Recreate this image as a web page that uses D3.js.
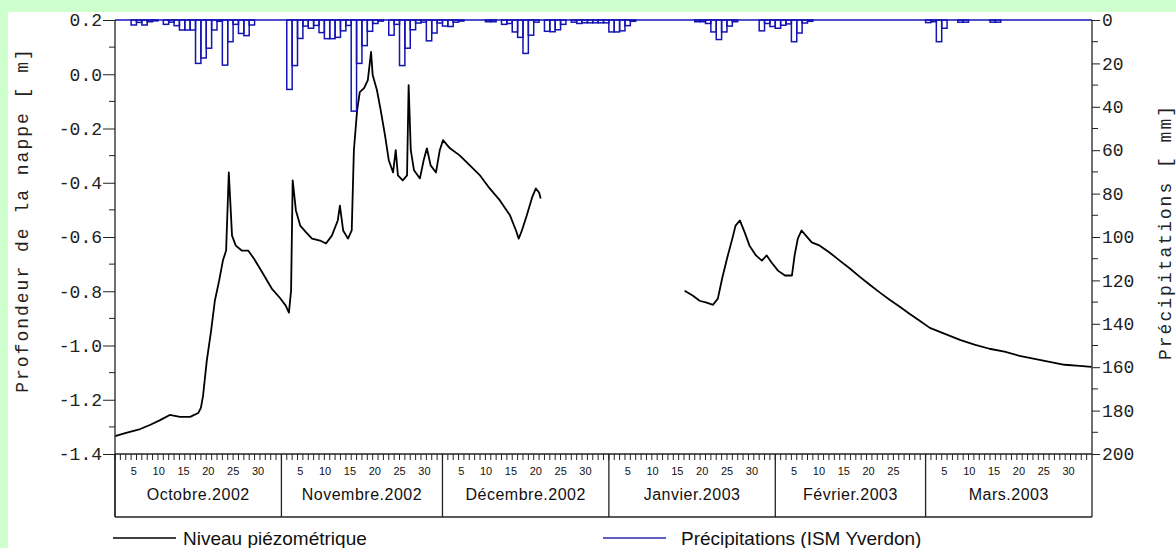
<!DOCTYPE html>
<meta charset="utf-8">
<style>
    body { margin: 0; background: #ccffcc; }
    svg { display: block; }
    .ticklab { font-family: "Liberation Mono", "DejaVu Sans Mono", monospace; font-size: 18px; fill: #222; }
    .axtitle { font-family: "Liberation Mono", "DejaVu Sans Mono", monospace; font-size: 18px; fill: #222; letter-spacing: 2px; }
    .daylab { font-family: "Liberation Sans", Arial, sans-serif; font-size: 11px; fill: #111; }
    .monthlab { font-family: "Liberation Sans", Arial, sans-serif; font-size: 16px; fill: #111; letter-spacing: 0.5px; }
    .legend { font-family: "Liberation Sans", Arial, sans-serif; font-size: 19px; fill: #111; }
</style>
<body>
<svg width="1176" height="548"></svg>
</body>
<script src="https://cdn.jsdelivr.net/npm/d3@7"></script>
<script>

    // day offsets are counted from 1 Oct 2002
    var rainDays = [3, 4, 5, 6, 7, 9, 10, 11, 12, 13, 14, 15, 16, 17, 18, 19, 20, 21, 22, 23, 24, 25,
        32, 33, 34, 35, 36, 37, 38, 39, 40, 41, 42, 43, 44, 45, 46, 47, 48, 49,
        51, 52, 53, 54, 55, 56, 57, 58, 59, 60, 61, 62, 63, 64,
        69, 70, 72, 73, 74, 75, 76, 77, 78, 80, 81, 82, 83, 85, 86, 87, 88, 89, 90, 91, 92, 93, 94, 95, 96,
        108, 109, 110, 111, 112, 113, 114, 115,
        120, 121, 122, 123, 124, 125, 126, 127, 128, 129,
        151, 152, 153, 154, 157, 158, 163, 164];
    var rainMm = [2.3, 1.1, 2.3, 0.8, 0.4, 2.0, 1.0, 2.6, 4.6, 4.6, 4.6, 20, 17.5, 13, 4.6, 0.6, 20.8, 10, 2, 6.2, 7.2, 2.3,
        32, 21, 8.5, 2.8, 3.8, 2.5, 5.8, 8.6, 8.6, 8, 5, 2.5, 42, 20, 11.8, 5.2, 1.6, 0.5,
        7, 2, 21, 13, 4.5, 1.4, 1, 9.6, 6, 1.4, 2.8, 3, 1, 0.5,
        0.8, 0.8, 2, 1.6, 5.5, 8, 15.4, 7, 1, 5.2, 5.4, 4.5, 2, 1, 1.6, 1.3, 1.3, 1.3, 1.3, 1.3, 5.5, 5.5, 5, 2.6, 0.6,
        0.8, 0.8, 1.6, 5.5, 9, 5.5, 2.8, 0.8,
        5, 1.6, 3, 3.8, 2.4, 1.8, 10, 6, 1.4, 0.6,
        1.2, 0.8, 10, 3.8, 1, 1, 1, 1];

    // piezometric level, first logged period (Oct - Dec)
    var levelDays1 = [0, 1.9, 4.7, 6.5, 8.4, 10.2, 12.1, 14, 15.5, 16, 16.4, 17.1, 17.9, 18.6, 19.4, 20.1, 20.7, 21.2, 21.8,
        22.5, 23.6, 24.8, 25.9, 27, 28.1, 29.2, 30.7, 31.8, 32.4, 32.8, 33.1, 33.7, 34.5, 35.6, 36.7, 38.2, 39.3, 40.4,
        41.5, 41.9, 42.5, 43.4, 44.1, 44.5, 45.1, 45.6, 46.4, 47.1, 47.7, 48, 48.8, 49.5, 50.3, 51, 51.8, 52.3, 52.7,
        53.6, 54.4, 54.7, 55.1, 55.7, 56.8, 57.5, 58.1, 58.8, 59.8, 60.5, 61.1, 62.4, 64.2, 66.1, 68, 69.8, 71.7, 73.6,
        74.7, 75.2, 75.8, 76.7, 77.7, 78.4, 79, 79.3];
    var levelVals1 = [-1.334, -1.323, -1.308, -1.293, -1.275, -1.256, -1.263, -1.263, -1.249, -1.23, -1.186, -1.056, -0.946,
        -0.835, -0.761, -0.687, -0.65, -0.362, -0.595, -0.632, -0.65, -0.65, -0.68, -0.716, -0.753, -0.79, -0.824, -0.853,
        -0.879, -0.798, -0.391, -0.502, -0.558, -0.583, -0.606, -0.613, -0.624, -0.595, -0.539, -0.484, -0.576, -0.606,
        -0.576, -0.28, -0.133, -0.066, -0.051, -0.022, 0.082, -0.003, -0.059, -0.133, -0.225, -0.317, -0.362, -0.28,
        -0.373, -0.391, -0.373, -0.04, -0.28, -0.354, -0.384, -0.317, -0.273, -0.336, -0.362, -0.28, -0.243, -0.273,
        -0.299, -0.336, -0.373, -0.421, -0.465, -0.521, -0.576, -0.606, -0.576, -0.521, -0.454, -0.421, -0.436, -0.458];

    // second logged period (Jan - Mar)
    var levelDays2 = [106.1, 107.6, 108.9, 110.2, 111.4, 112.3, 113.1, 114, 115, 115.6, 116.4, 117.3, 118.2, 119.4, 120.5,
        121.4, 122.3, 123.5, 124.8, 126.1, 126.6, 127.2, 127.9, 128.7, 129.8, 131.3, 133.1, 135, 136.9, 138.7, 140.6,
        142.5, 144.3, 146.2, 148, 149.9, 151.8, 154.6, 157.4, 160.1, 162.9, 165.7, 168.5, 171.3, 174.1, 176.9, 179.7, 181.9];
    var levelVals2 = [-0.798, -0.816, -0.835, -0.842, -0.85, -0.827, -0.753, -0.68, -0.606, -0.558, -0.539, -0.583, -0.632,
        -0.668, -0.687, -0.668, -0.694, -0.724, -0.742, -0.742, -0.668, -0.606, -0.576, -0.595, -0.62, -0.632, -0.657,
        -0.687, -0.716, -0.746, -0.776, -0.805, -0.831, -0.857, -0.883, -0.909, -0.935, -0.957, -0.979, -0.997, -1.012,
        -1.023, -1.038, -1.049, -1.06, -1.071, -1.075, -1.079];

    var monthNames = ["Octobre.2002", "Novembre.2002", "Décembre.2002", "Janvier.2003", "Février.2003", "Mars.2003"];
    var dayLabels = [5, 10, 15, 20, 25, 30];
    var leftTicks = [0.2, 0.0, -0.2, -0.4, -0.6, -0.8, -1.0, -1.2, -1.4];
    var rightTicks = [0, 20, 40, 60, 80, 100, 120, 140, 160, 180, 200];

    var svg = d3.select("svg");
    var pLeft = 115, pRight = 1092, pTop = 20, pBottom = 454, bandBottom = 517;

    svg.append("rect").attr("x", 8).attr("y", 12).attr("width", 1168).attr("height", 536).attr("fill", "#fff");

    var start = new Date(2002, 9, 1);
    function dayDate(d) { return new Date(start.getTime() + d * 864e5); }

    var x = d3.scaleTime()
        .domain([start, new Date(2003, 3, 1)])
        .range([pLeft, pRight]);
    var y = d3.scaleLinear().domain([-1.4, 0.2]).range([pBottom, pTop]);
    var yRain = d3.scaleLinear().domain([0, 200]).range([pTop, pBottom]);

    var line = d3.line()
        .x(function (d) { return x(dayDate(d[0])); })
        .y(function (d) { return y(d[1]); });

    [[levelDays1, levelVals1], [levelDays2, levelVals2]].forEach(function (s) {
        svg.append("path")
            .datum(d3.zip(s[0], s[1]))
            .attr("fill", "none")
            .attr("stroke", "#000")
            .attr("stroke-width", 1.8)
            .attr("stroke-linejoin", "round")
            .attr("d", line);
    });

    // precipitation bars hanging from the top
    svg.append("g").selectAll("rect")
        .data(rainDays)
        .enter().append("rect")
        .attr("x", function (d) { return x(dayDate(d)); })
        .attr("width", function (d) { return x(dayDate(d + 1)) - x(dayDate(d)); })
        .attr("y", yRain(0))
        .attr("height", function (d, i) { return yRain(rainMm[i]) - yRain(0); })
        .attr("fill", "none")
        .attr("stroke", "#1414b4")
        .attr("stroke-width", 1.5);

    svg.append("line")
        .attr("x1", pLeft).attr("x2", pRight)
        .attr("y1", yRain(0)).attr("y2", yRain(0))
        .attr("stroke", "#1414b4").attr("stroke-width", 1.5);

    // left axis
    var yAxis = d3.axisLeft(y).tickValues(leftTicks).tickSize(12).tickPadding(1);
    var gl = svg.append("g").attr("transform", "translate(" + pLeft + ",0)").call(yAxis);
    gl.select(".domain").remove();
    gl.selectAll("text").attr("class", "ticklab").attr("font-family", null).attr("font-size", null)
        .text(function (d) { return d.toFixed(1); });
    gl.selectAll("line").attr("stroke", "#222");
    svg.append("g").selectAll("line")
        .data([0.1, -0.1, -0.3, -0.5, -0.7, -0.9, -1.1, -1.3])
        .enter().append("line")
        .attr("x1", pLeft - 6).attr("x2", pLeft)
        .attr("y1", function (d) { return y(d); }).attr("y2", function (d) { return y(d); })
        .attr("stroke", "#222");

    // right axis
    var rAxis = d3.axisRight(yRain).tickValues(rightTicks).tickSize(8).tickPadding(2);
    var gr = svg.append("g").attr("transform", "translate(" + pRight + ",0)").call(rAxis);
    gr.select(".domain").remove();
    gr.selectAll("text").attr("class", "ticklab").attr("font-family", null).attr("font-size", null);
    gr.selectAll("line").attr("stroke", "#222");
    svg.append("g").selectAll("line")
        .data([10, 30, 50, 70, 90, 110, 130, 150, 170, 190])
        .enter().append("line")
        .attr("x1", pRight).attr("x2", pRight + 6)
        .attr("y1", function (d) { return yRain(d); }).attr("y2", function (d) { return yRain(d); })
        .attr("stroke", "#222");

    // frame lines
    svg.append("line").attr("x1", pLeft).attr("x2", pLeft).attr("y1", pTop).attr("y2", bandBottom).attr("stroke", "#222").attr("stroke-width", 1.3);
    svg.append("line").attr("x1", pRight).attr("x2", pRight).attr("y1", pTop).attr("y2", bandBottom).attr("stroke", "#222").attr("stroke-width", 1.3);
    svg.append("line").attr("x1", pLeft).attr("x2", pRight).attr("y1", pBottom).attr("y2", pBottom).attr("stroke", "#222").attr("stroke-width", 1.3);
    svg.append("line").attr("x1", pLeft).attr("x2", pRight).attr("y1", bandBottom).attr("y2", bandBottom).attr("stroke", "#222").attr("stroke-width", 1.3);

    // daily ticks
    svg.append("g").selectAll("line")
        .data(d3.timeDay.range(start, new Date(2003, 3, 1)))
        .enter().append("line")
        .attr("x1", function (d) { return x(d); }).attr("x2", function (d) { return x(d); })
        .attr("y1", pBottom).attr("y2", pBottom + 6)
        .attr("stroke", "#222").attr("stroke-width", 1);

    // month bands
    var months = d3.timeMonth.range(start, new Date(2003, 3, 1));
    var mg = svg.append("g").selectAll("g")
        .data(months)
        .enter().append("g");
    mg.append("line")
        .attr("x1", function (d) { return x(d); }).attr("x2", function (d) { return x(d); })
        .attr("y1", pBottom).attr("y2", bandBottom)
        .attr("stroke", "#222").attr("stroke-width", 1.3);
    mg.append("text")
        .attr("class", "monthlab")
        .attr("x", function (d) { return (x(d) + x(d3.timeMonth.offset(d, 1))) / 2; })
        .attr("y", 500)
        .attr("text-anchor", "middle")
        .text(function (d, i) { return monthNames[i]; });

    // day numbers sit slightly compressed inside each month
    var dayPos = d3.scaleLinear().domain([0, 31]).range([-6, 148]);
    mg.each(function (m) {
        var n = d3.timeDay.count(m, d3.timeMonth.offset(m, 1));
        d3.select(this).selectAll("text.daylab")
            .data(dayLabels.filter(function (d) { return d <= n; }))
            .enter().append("text")
            .attr("class", "daylab")
            .attr("x", function (d) { return x(m) + dayPos(d); })
            .attr("y", 475)
            .attr("text-anchor", "middle")
            .text(function (d) { return d; });
    });

    // axis titles
    svg.append("text")
        .attr("class", "axtitle")
        .attr("transform", "translate(28,220) rotate(-90)")
        .attr("text-anchor", "middle")
        .text("Profondeur de la nappe [ m]");
    svg.append("text")
        .attr("class", "axtitle")
        .attr("transform", "translate(1171,232) rotate(-90)")
        .attr("text-anchor", "middle")
        .text("Précipitations [ mm]");

    // legend
    svg.append("line").attr("x1", 113).attr("x2", 176).attr("y1", 538).attr("y2", 538).attr("stroke", "#000").attr("stroke-width", 1.5);
    svg.append("text").attr("class", "legend").attr("x", 183).attr("y", 545).text("Niveau piézométrique");
    svg.append("line").attr("x1", 603).attr("x2", 666).attr("y1", 538).attr("y2", 538).attr("stroke", "#2a2aa8").attr("stroke-width", 1.5);
    svg.append("text").attr("class", "legend").attr("x", 681).attr("y", 545).text("Précipitations (ISM Yverdon)");

</script>
